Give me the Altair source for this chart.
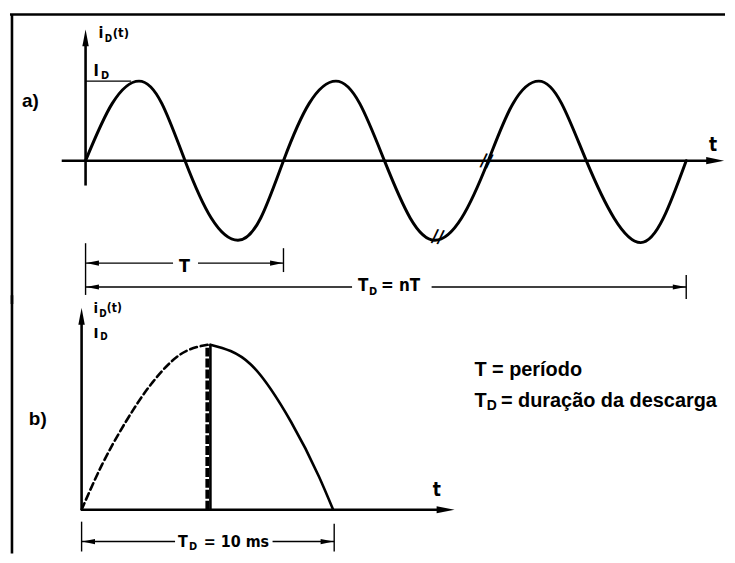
import altair as alt
import pandas as pd

NARROW = "Liberation Sans Narrow, DejaVu Sans Condensed, Arial Narrow, sans-serif"
BOLD = "Liberation Sans, Arial, Helvetica, sans-serif"

# ---------------- panel a) : t in ms (T = 20 ms), current in units of I_D
A_X_DOMAIN = [-7.638, 64.62]
A_Y_DOMAIN = [-1.75, 1.9]
A_T = [0, 2.7, 5.4, 7.7, 10.05, 12.7, 15.4, 17.7, 20.0, 22.6, 25.3, 27.7, 30.2,
       32.8, 35.3, 38.0, 40.7, 43.2, 45.8, 48.1, 50.6, 53.4, 56.1, 58.4, 60.7]
A_I = [0, 0.72, 1.0, 0.72, 0, -0.72, -1.0, -0.72, 0, 0.72, 1.0, 0.72, 0,
       -0.72, -1.0, -0.72, 0, 0.72, 1.0, 0.72, 0, -0.72, -1.03, -0.72, 0]
# thick lines: axes and frame (t1, i1, t2, i2)
A_THICK = [(0, -0.3125, 0, 1.5), (-2.41, 0, 63.2, 0),
           (-7.638, 1.8375, 64.62, 1.8375), (-7.437, 1.8375, -7.437, -1.80)]
# thin lines: I_D level, dimension lines and their ticks
A_THIN = [(0, 1, 4.6, 1),
          (0, -1.0375, 0, -1.6875), (20, -1.1, 20, -1.4),
          (0, -1.2875, 8.84, -1.2875), (11.36, -1.2875, 20, -1.2875),
          (0, -1.5875, 26.93, -1.5875), (34.97, -1.5875, 60.7, -1.5875),
          (60.7, -1.4375, 60.7, -1.74)]
A_ARROW_UP = [(0, 1.544)]
A_ARROW_RIGHT = [(63.62, 0)]
A_DIM_LEFT = [(0.70, -1.2875), (0.70, -1.5875)]
A_DIM_RIGHT = [(19.30, -1.2875), (60.0, -1.5875)]
A_LABELS = [("i", 1.31, 1.5375, 16), ("D", 1.95, 1.4875, 10), ("(t)", 2.75, 1.55, 13),
            ("I", 0.80, 1.0625, 16), ("D", 1.55, 1.025, 11),
            ("T", 9.45, -1.4, 18),
            ("T", 27.54, -1.6375, 17), ("D", 28.64, -1.6875, 11), ("=  nT", 29.85, -1.6375, 17),
            ("t", 63.0, 0.125, 19)]
A_BREAKS = [("//", 35.58, -0.9625), ("//", 40.5, -0.0125)]
A_BOLD = [("a)", -6.43, 0.675, 19)]

# ---------------- panel b) : t in ms, current in units of I_D
B_X_DOMAIN = [-2.8346, 25.472]
B_Y_DOMAIN = [-0.2651, 1.2711]
B_DASH_T = [0, 0.8, 1.7, 2.8, 3.9, 5.0]
B_DASH_I = [0, 0.27, 0.52, 0.77, 0.94, 1.0]
B_SOLID_T = [5.1, 6.7, 8.3, 9.4, 9.96]
B_SOLID_I = [1.0, 0.88, 0.53, 0.2, 0]
B_THICK = [(0, 0, 0, 1.15), (0, 0, 14.17, 0), (-2.756, 1.30, -2.756, -0.2651),
           (5.1, 0, 5.1, 1.0)]
B_PEAK_DASH = [(4.98, 0, 4.98, 1.0)]
B_THIN = [(0, -0.0723, 0, -0.253), (10, -0.0843, 10, -0.253),
          (0, -0.1928, 3.70, -0.1928), (7.56, -0.1928, 10, -0.1928)]
B_ARROW_UP = [(0, 1.172)]
B_ARROW_RIGHT = [(14.41, 0)]
B_DIM_LEFT = [(0.276, -0.1928)]
B_DIM_RIGHT = [(9.72, -0.1928)]
B_LABELS = [("i", 0.472, 1.193, 15), ("D", 0.70, 1.169, 10), ("(t)", 1.00, 1.199, 12),
            ("I", 0.472, 1.042, 15), ("D", 0.74, 1.03, 10),
            ("t", 13.9, 0.0843, 19),
            ("T", 3.82, -0.223, 16), ("D", 4.25, -0.241, 11), ("= 10 ms", 4.84, -0.223, 16)]
B_BOLD = [("b)", -2.087, 0.512, 19),
          ("T = período", 15.55, 0.813, 20),
          ("T", 15.55, 0.620, 20), ("D", 16.04, 0.602, 14),
          ("= duração da descarga", 16.60, 0.620, 20)]

UP = "M0,-1L0.38,1L-0.38,1Z"
RIGHT = "M1,0L-1,0.4L-1,-0.4Z"
LEFT = "M-1,0L1,0.4L1,-0.4Z"


def make_panel(xdom, ydom, w, h, curves, thick, thin, dashed_rules, arrows, labels, bold, breaks):
    def X(f="t"):
        return alt.X(f"{f}:Q", scale=alt.Scale(domain=xdom, zero=False, nice=False), axis=None)

    def Y(f="v"):
        return alt.Y(f"{f}:Q", scale=alt.Scale(domain=ydom, zero=False, nice=False), axis=None)

    layers = []
    for ts, vs, sw, dash, interp in curves:
        df = pd.DataFrame({"t": ts, "v": vs})
        mk = dict(interpolate=interp, color="black", strokeWidth=sw, strokeCap="round")
        if dash:
            mk["strokeDash"] = dash
        layers.append(alt.Chart(df).mark_line(**mk).encode(x=X(), y=Y()))

    def rules(segs, sw, dash=None):
        df = pd.DataFrame(segs, columns=["t", "v", "t2", "v2"])
        mk = dict(color="black", strokeWidth=sw)
        if dash:
            mk["strokeDash"] = dash
        return alt.Chart(df).mark_rule(**mk).encode(
            x=X(), y=Y(), x2=alt.X2("t2"), y2=alt.Y2("v2"))

    layers.append(rules(thick, 2.6))
    layers.append(rules(thin, 1.4))
    for segs, sw, dash in dashed_rules:
        layers.append(rules(segs, sw, dash))

    for pts, shape, size in arrows:
        df = pd.DataFrame(pts, columns=["t", "v"])
        layers.append(alt.Chart(df).mark_point(
            shape=shape, filled=True, color="black", opacity=1, strokeWidth=0
        ).encode(x=X(), y=Y(), size=alt.value(size)))

    df = pd.DataFrame(labels, columns=["label", "t", "v", "fs"])
    layers.append(alt.Chart(df).mark_text(
        align="left", baseline="alphabetic", font=NARROW, fontWeight="bold", color="black"
    ).encode(x=X(), y=Y(), text="label:N", size=alt.Size("fs:Q", scale=None)))

    df = pd.DataFrame(bold, columns=["label", "t", "v", "fs"])
    layers.append(alt.Chart(df).mark_text(
        align="left", baseline="alphabetic", font=BOLD, fontWeight="bold", color="black"
    ).encode(x=X(), y=Y(), text="label:N", size=alt.Size("fs:Q", scale=None)))

    if breaks:
        df = pd.DataFrame(breaks, columns=["label", "t", "v"])
        layers.append(alt.Chart(df).mark_text(
            align="center", baseline="middle", font=NARROW, fontWeight="bold",
            fontSize=18, angle=10, color="black"
        ).encode(x=X(), y=Y(), text="label:N"))

    return alt.layer(*layers).properties(width=w, height=h)


panel_a = make_panel(
    A_X_DOMAIN, A_Y_DOMAIN, 719, 292,
    curves=[(A_T, A_I, 3, None, "natural")],
    thick=A_THICK, thin=A_THIN, dashed_rules=[],
    arrows=[(A_ARROW_UP, UP, 289), (A_ARROW_RIGHT, RIGHT, 324),
            (A_DIM_LEFT, LEFT, 169), (A_DIM_RIGHT, RIGHT, 169)],
    labels=A_LABELS, bold=A_BOLD, breaks=A_BREAKS)

panel_b = make_panel(
    B_X_DOMAIN, B_Y_DOMAIN, 719, 255,
    curves=[(B_DASH_T, B_DASH_I, 2.6, [7, 4], "monotone"),
            (B_SOLID_T, B_SOLID_I, 2.6, None, "monotone")],
    thick=B_THICK, thin=B_THIN, dashed_rules=[(B_PEAK_DASH, 4, [9, 2])],
    arrows=[(B_ARROW_UP, UP, 289), (B_ARROW_RIGHT, RIGHT, 324),
            (B_DIM_LEFT, LEFT, 169), (B_DIM_RIGHT, RIGHT, 169)],
    labels=B_LABELS, bold=B_BOLD, breaks=None)

chart = alt.vconcat(panel_a, panel_b, spacing=0, bounds="flush").properties(
    padding=0, background="white"
).configure_view(stroke=None)

chart.save("out.html", embed_options={"renderer": "svg", "actions": False})
